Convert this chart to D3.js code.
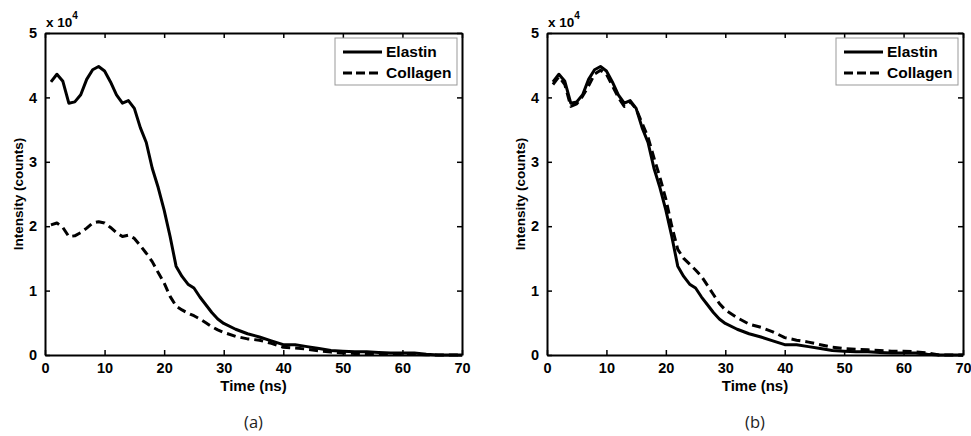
<!DOCTYPE html>
<html><head><meta charset="utf-8">
<script src="https://cdn.jsdelivr.net/npm/d3@7"></script>
<style>body{margin:0;background:#fff}svg{display:block}</style>
</head><body>
<script>
const time = [1,2,3,4,5,6,7,8,9,10,11,12,13,14,15,16,17,18,19,20,21,22,23,24,25,26,27,28,29,30,32,34,36,38,40,42,44,46,48,50,52,54,56,58,60,62,64,66,68,70];
const elastin = [4.24,4.36,4.25,3.91,3.93,4.04,4.28,4.43,4.48,4.41,4.24,4.04,3.91,3.95,3.83,3.53,3.30,2.90,2.60,2.25,1.84,1.38,1.22,1.10,1.04,0.90,0.78,0.66,0.56,0.49,0.40,0.33,0.28,0.22,0.16,0.16,0.13,0.10,0.07,0.06,0.05,0.05,0.04,0.03,0.03,0.03,0.01,0,0,0];
const collagenA = [2.02,2.05,1.98,1.84,1.85,1.90,1.97,2.05,2.07,2.05,1.98,1.90,1.84,1.86,1.81,1.70,1.58,1.45,1.28,1.12,0.91,0.76,0.70,0.65,0.61,0.56,0.50,0.44,0.39,0.35,0.29,0.25,0.23,0.18,0.12,0.11,0.09,0.065,0.045,0.03,0.025,0.02,0.015,0.01,0.01,0.01,0.005,0,0,0];
const collagenB = [4.20,4.32,4.20,3.86,3.90,4.02,4.18,4.36,4.42,4.36,4.18,4.00,3.86,3.93,3.82,3.60,3.38,3.06,2.76,2.42,2.00,1.64,1.50,1.41,1.32,1.22,1.08,0.94,0.80,0.70,0.58,0.48,0.43,0.36,0.27,0.23,0.20,0.16,0.12,0.10,0.09,0.08,0.07,0.06,0.06,0.05,0.03,0,0,0];
const xTicks = [0,10,20,30,40,50,60,70];
const yTicks = [0,1,2,3,4,5];
const seriesNames = ["Elastin","Collagen"];
const panelLabels = ["(a)","(b)"];

const W = 971, H = 436;
const svg = d3.select("body").append("svg").attr("width", W).attr("height", H);
const FONT = "'Liberation Sans', Arial, sans-serif";

const panels = [
  {left:45, right:462, top:33, bottom:355, col:collagenA, label:panelLabels[0]},
  {left:547, right:963, top:33, bottom:355, col:collagenB, label:panelLabels[1]}
];

panels.forEach(p => {
  const x = d3.scaleLinear().domain([0,70]).range([p.left, p.right]);
  const y = d3.scaleLinear().domain([0,5]).range([p.bottom, p.top]);
  const g = svg.append("g");

  const line = d3.line().x((d,i)=>x(time[i])).y(d=>y(d));

  g.append("path").datum(p.col).attr("d", line)
    .attr("fill","none").attr("stroke","#000").attr("stroke-width",3)
    .attr("stroke-dasharray","9,5").attr("stroke-linejoin","round");
  g.append("path").datum(elastin).attr("d", line)
    .attr("fill","none").attr("stroke","#000").attr("stroke-width",3)
    .attr("stroke-linejoin","round");

  const tickFmt = d3.format("d");
  const ax = [
    g.append("g").attr("transform",`translate(0,${p.bottom})`).call(d3.axisBottom(x).tickValues(xTicks).tickSizeInner(-5).tickSizeOuter(0).tickPadding(8).tickFormat(tickFmt)),
    g.append("g").attr("transform",`translate(0,${p.top})`).call(d3.axisTop(x).tickValues(xTicks).tickSizeInner(-5).tickSizeOuter(0).tickFormat("")),
    g.append("g").attr("transform",`translate(${p.left},0)`).call(d3.axisLeft(y).tickValues(yTicks).tickSizeInner(-5).tickSizeOuter(0).tickPadding(8).tickFormat(tickFmt)),
    g.append("g").attr("transform",`translate(${p.right},0)`).call(d3.axisRight(y).tickValues(yTicks).tickSizeInner(-5).tickSizeOuter(0).tickFormat(""))
  ];
  ax.forEach(a => {
    a.select(".domain").attr("stroke","#000").attr("stroke-width",2);
    a.selectAll(".tick line").attr("stroke","#000").attr("stroke-width",1.5);
    a.selectAll(".tick text").attr("font-family",FONT).attr("font-weight","bold").attr("font-size",14.5).attr("fill","#000");
  });

  const ex = g.append("text").attr("x", p.left+1).attr("y", 27)
    .attr("font-family",FONT).attr("font-weight","bold").attr("font-size",13.5);
  ex.append("tspan").text("x 10");
  ex.append("tspan").attr("dy",-8).attr("font-size",10).text("4");

  g.append("text").attr("transform",`translate(${p.left-22},${(p.top+p.bottom)/2}) rotate(-90)`)
    .attr("text-anchor","middle").attr("font-family",FONT).attr("font-weight","bold").attr("font-size",13.5)
    .text("Intensity (counts)");
  g.append("text").attr("x",(p.left+p.right)/2).attr("y",391)
    .attr("text-anchor","middle").attr("font-family",FONT).attr("font-weight","bold").attr("font-size",15)
    .text("Time (ns)");
  g.append("text").attr("x",(p.left+p.right)/2).attr("y",428)
    .attr("text-anchor","middle").attr("font-family","'Open Sans', sans-serif").attr("font-size",16.5).attr("fill","#222")
    .text(p.label);

  const lx = p.right - 127, ly = p.top + 5;
  const lg = g.append("g");
  lg.append("rect").attr("x",lx).attr("y",ly).attr("width",122).attr("height",47)
    .attr("fill","#fff").attr("stroke","#999").attr("stroke-width",1);
  seriesNames.forEach((n,i)=>{
    const yy = ly + 14 + i*21;
    lg.append("line").attr("x1",lx+8).attr("x2",lx+47).attr("y1",yy).attr("y2",yy)
      .attr("stroke","#000").attr("stroke-width",3).attr("stroke-dasharray", i ? "9,4" : null);
    lg.append("text").attr("x",lx+51).attr("y",yy+5).attr("font-family",FONT).attr("font-weight","bold")
      .attr("font-size",15.5).text(n);
  });
});
</script>
</body></html>
